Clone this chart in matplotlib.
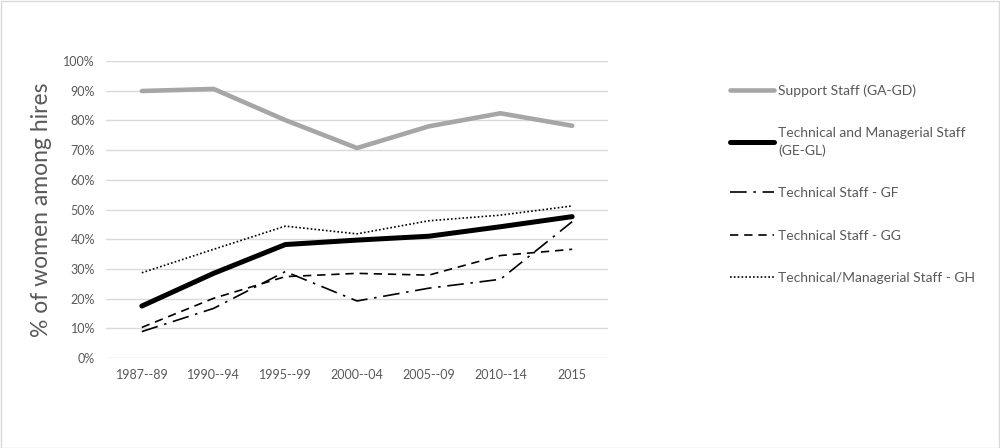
import numpy as np
import matplotlib.pyplot as plt
from matplotlib.ticker import PercentFormatter

periods = ['1987--89', '1990--94', '1995--99', '2000--04', '2005--09', '2010--14', '2015']
support = [89.9, 90.6, 80.1, 70.7, 78.0, 82.4, 78.2]
tech_man = [17.5, 28.5, 38.2, 39.7, 41.0, 44.2, 47.6]
tech_gf = [8.9, 16.7, 29.1, 19.2, 23.5, 26.5, 45.9]
tech_gg = [10.3, 20.1, 27.4, 28.5, 27.9, 34.5, 36.6]
tech_gh = [28.7, 36.6, 44.4, 41.8, 46.2, 48.1, 51.2]

plt.rcParams['font.family'] = ['Lato', 'DejaVu Sans']
txt = '#595959'

fig = plt.figure(figsize=(10, 4.48), dpi=100)
ax = fig.add_axes([0.106, 0.2009, 0.502, 0.6629])

x = np.arange(len(periods))
ax.plot(x, support, color='#a6a6a6', lw=3.3, solid_capstyle='round', label='Support Staff (GA-GD)')
ax.plot(x, tech_man, color='black', lw=3.6, solid_capstyle='round',
        label='Technical and Managerial Staff\n(GE-GL)')
ax.plot(x, tech_gf, color='black', lw=1.2, dashes=(10, 4, 1.5, 4), label='Technical Staff - GF')
ax.plot(x, tech_gg, color='black', lw=1.2, dashes=(5, 3.5), label='Technical Staff - GG')
ax.plot(x, tech_gh, color='black', lw=1.2, dashes=(1, 1.3), label='Technical/Managerial Staff - GH')

ax.set_xlim(-0.5, len(periods) - 0.5)
ax.set_ylim(0, 100)
ax.set_yticks(np.arange(0, 101, 10))
ax.yaxis.set_major_formatter(PercentFormatter(decimals=0))
ax.set_xticks(x)
ax.set_xticklabels(periods)
ax.tick_params(length=0, labelsize=9, labelcolor=txt, pad=8)
ax.grid(axis='y', color='#d9d9d9', lw=1)
ax.set_axisbelow(True)
for s in ax.spines.values():
    s.set_visible(False)
ax.set_ylabel('% of women among hires', fontsize=16.5, color=txt, labelpad=8)

leg = fig.legend(loc='upper left', bbox_to_anchor=(0.717, 0.84), frameon=False,
                 fontsize=10, handlelength=3.2, handletextpad=0.3, labelspacing=2.2,
                 labelcolor=txt)
for t in leg.get_texts():
    t.set_linespacing(1.45)

fig.patches.append(plt.Rectangle((0.001, 0.001), 0.998, 0.997, transform=fig.transFigure,
                                 fill=False, edgecolor='#d9d9d9', lw=1))
fig.savefig('out.png', dpi=100)
